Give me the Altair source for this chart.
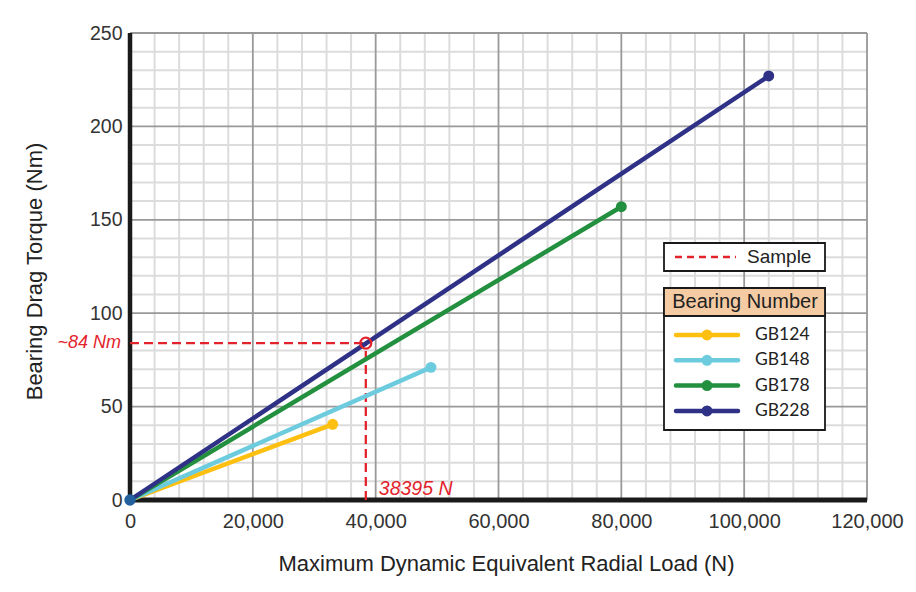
import altair as alt
import pandas as pd

# ---- data ----
series = ["GB124", "GB148", "GB178", "GB228"]
colors = ["#FDC010", "#6CCCDE", "#23903F", "#2E3185"]
max_load = [33000, 49000, 80000, 104000]
max_torque = [40.5, 71, 157, 227]

sample_load = 38395
sample_torque = 84

x_ticks = [0, 20000, 40000, 60000, 80000, 100000, 120000]
y_ticks = [0, 50, 100, 150, 200, 250]
x_minor = [v for v in range(4000, 120000, 4000) if v % 20000]
y_minor = [v for v in range(10, 250, 10) if v % 50]

W, H = 737, 467
FONT = "Liberation Sans"
RED = "#E3232C"

rows = []
for s, xl, yt in zip(series, max_load, max_torque):
    rows.append({"series": s, "x": 0, "y": 0, "o": 0})
    rows.append({"series": s, "x": xl, "y": yt, "o": 1})
lines_df = pd.DataFrame(rows)
ends_df = pd.DataFrame({"series": series, "x": max_load, "y": max_torque})

xs = alt.Scale(domain=[0, 120000], nice=False, zero=True)
ys = alt.Scale(domain=[0, 250], nice=False, zero=True)
xaxis = alt.Axis(values=x_ticks, format=",d", grid=False, ticks=False, domain=False,
                 labelFlush=False, labelFont=FONT,
                 labelFontSize=20, labelColor="#333333", labelPadding=11,
                 title="Maximum Dynamic Equivalent Radial Load (N)",
                 titleFont=FONT, titleFontSize=22, titleFontWeight="normal",
                 titleColor="#222222", titlePadding=22, titleX=376)
yaxis = alt.Axis(values=y_ticks, grid=False, ticks=False, domain=False,
                 labelFlush=False, labelFont=FONT,
                 labelFontSize=19.5, labelColor="#333333", labelPadding=8,
                 title="Bearing Drag Torque (Nm)", titleFont=FONT,
                 titleFontSize=22, titleFontWeight="normal",
                 titleColor="#222222", titlePadding=43, titleY=238)
cs = alt.Scale(domain=series, range=colors)

X = alt.X("x:Q", scale=xs, axis=xaxis)
Y = alt.Y("y:Q", scale=ys, axis=yaxis)

minor_v = alt.Chart(pd.DataFrame({"x": x_minor})).mark_rule(
    color="#DCDCDC", strokeWidth=2).encode(x=X)
minor_h = alt.Chart(pd.DataFrame({"y": y_minor})).mark_rule(
    color="#DCDCDC", strokeWidth=2).encode(y=Y)
major_v = alt.Chart(pd.DataFrame({"x": x_ticks[1:]})).mark_rule(
    color="#999999", strokeWidth=1.8).encode(x=X)
major_h = alt.Chart(pd.DataFrame({"y": y_ticks[1:]})).mark_rule(
    color="#999999", strokeWidth=1.8).encode(y=Y)
# axis lines (black, on top of the grid)
axis_v = alt.Chart(pd.DataFrame({"x": [0]})).mark_rule(
    color="#1a1a1a", strokeWidth=4.5).encode(x=X)
axis_h = alt.Chart(pd.DataFrame({"y": [0]})).mark_rule(
    color="#1a1a1a", strokeWidth=5).encode(y=Y)

lines = alt.Chart(lines_df).mark_line(strokeWidth=4.5, strokeCap="round").encode(
    x=X, y=Y, order="o:Q",
    color=alt.Color("series:N", scale=cs, legend=None),
    detail="series:N")
ends = alt.Chart(ends_df).mark_circle(size=120, opacity=1).encode(
    x=X, y=Y, color=alt.Color("series:N", scale=cs, legend=None))
origin = alt.Chart(pd.DataFrame({"x": [0], "y": [0]})).mark_circle(
    size=130, opacity=1, color="#22609E").encode(x=X, y=Y)

# sample annotation
samp_h = alt.Chart(pd.DataFrame({"x": [0], "x2": [sample_load], "y": [sample_torque]})).mark_rule(
    color=RED, strokeWidth=2.3, strokeDash=[9, 5]).encode(x=X, x2="x2:Q", y=Y)
samp_v = alt.Chart(pd.DataFrame({"x": [sample_load], "y": [0], "y2": [sample_torque]})).mark_rule(
    color=RED, strokeWidth=2.3, strokeDash=[9, 5]).encode(x=X, y=Y, y2="y2:Q")
samp_pt = alt.Chart(pd.DataFrame({"x": [sample_load], "y": [sample_torque]})).mark_point(
    shape="circle", size=120, filled=False, color=RED, strokeWidth=2.2, opacity=1).encode(x=X, y=Y)
lab_y = alt.Chart(pd.DataFrame({"x": [0], "y": [sample_torque], "t": [f"~{sample_torque} Nm"]})).mark_text(
    align="right", baseline="middle", dx=-9, font=FONT, fontSize=18, fontStyle="italic",
    color=RED).encode(x=X, y=Y, text="t:N")
lab_x = alt.Chart(pd.DataFrame({"x": [sample_load], "y": [0], "t": [f"{sample_load} N"]})).mark_text(
    align="left", baseline="bottom", dx=13, dy=-1, font=FONT, fontSize=19.5, fontStyle="italic",
    color=RED).encode(x=X, y=Y, text="t:N")

# ---- custom legend (pixel positions in plot area) ----
one = alt.Data(values=[{}])
LX0, LX1 = 534, 695
leg = []
leg.append(alt.Chart(one).mark_rect(fill="white", stroke="#1a1a1a", strokeWidth=1.8).encode(
    x=alt.value(LX0), x2=alt.value(LX1), y=alt.value(210), y2=alt.value(238)))
leg.append(alt.Chart(one).mark_rule(color=RED, strokeWidth=2.3, strokeDash=[7, 5]).encode(
    x=alt.value(545), x2=alt.value(606), y=alt.value(224)))
leg.append(alt.Chart(one).mark_text(text="Sample", align="left", baseline="middle", font=FONT,
    fontSize=19, color="#222222").encode(x=alt.value(617), y=alt.value(224)))
leg.append(alt.Chart(one).mark_rect(fill="white", stroke="#1a1a1a", strokeWidth=1.8).encode(
    x=alt.value(LX0), x2=alt.value(LX1), y=alt.value(255), y2=alt.value(397)))
leg.append(alt.Chart(one).mark_rect(fill="#F5CBA4", stroke="#1a1a1a", strokeWidth=1.8).encode(
    x=alt.value(LX0), x2=alt.value(LX1), y=alt.value(255), y2=alt.value(283)))
leg.append(alt.Chart(one).mark_text(text="Bearing Number", align="center", baseline="middle",
    font=FONT, fontSize=20, color="#222222").encode(x=alt.value(615), y=alt.value(269)))
for i, (s, c) in enumerate(zip(series, colors)):
    yy = 302 + i * 25.3
    leg.append(alt.Chart(one).mark_rule(color=c, strokeWidth=4.5, strokeCap="round").encode(
        x=alt.value(546), x2=alt.value(608), y=alt.value(yy)))
    leg.append(alt.Chart(one).mark_circle(color=c, size=120, opacity=1).encode(
        x=alt.value(577), y=alt.value(yy)))
    leg.append(alt.Chart(one).mark_text(text=s, align="left", baseline="middle", font="Lato",
        fontSize=17.5, color="#222222").encode(x=alt.value(625), y=alt.value(yy)))

chart = alt.layer(
    minor_v, minor_h, major_v, major_h, axis_v, axis_h,
    samp_h, samp_v, lines, ends, origin, samp_pt, lab_y, lab_x, *leg
).properties(
    width=W, height=H,
    autosize=alt.AutoSizeParams(type="none"),
    padding={"left": 122, "top": 25, "right": 41, "bottom": 84},
).configure_view(stroke="#999999", strokeWidth=2).configure(background="white")

chart.save("out.html", embed_options={"renderer": "svg", "actions": False})
